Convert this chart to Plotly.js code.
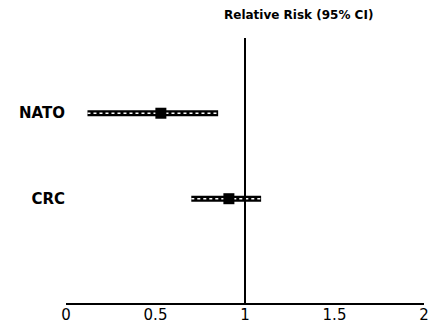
<!DOCTYPE html>
<html><head><meta charset="utf-8">
<script src="https://cdn.plot.ly/plotly-3.0.1.min.js"></script>
<style>html,body{margin:0;padding:0;background:#fff;}#chart{width:431px;height:329px;}</style>
</head><body><div id="chart"></div>
<script>
const studies = ['NATO', 'CRC'];
const rr = [0.53, 0.91];
const lower = [0.12, 0.70];
const upper = [0.85, 1.09];
const nullValue = 1;
const xTicks = [0, 0.5, 1, 1.5, 2];
const xTickText = ['0', '0.5', '1', '1.5', '2'];

const traces = [];
studies.forEach((s, i) => {
  traces.push({x: [lower[i], upper[i]], y: [s, s], mode: 'lines', type: 'scatter',
    line: {color: '#000', width: 6}, hoverinfo: 'skip', showlegend: false});
  traces.push({x: [lower[i], upper[i]], y: [s, s], mode: 'lines', type: 'scatter',
    line: {color: '#fff', width: 1.5, dash: '3px,3px'}, hoverinfo: 'skip', showlegend: false});
});
traces.push({x: rr, y: studies, mode: 'markers', type: 'scatter',
  marker: {symbol: 'square', size: 11, color: '#000'}, showlegend: false});

const font = {family: 'DejaVu Sans, sans-serif', size: 15, color: '#000'};
const layout = {
  width: 431, height: 329,
  margin: {l: 66, r: 7, t: 38, b: 26},
  paper_bgcolor: '#fff', plot_bgcolor: '#fff',
  font: font,
  showlegend: false,
  xaxis: {range: [0, 2], tickvals: xTicks, ticktext: xTickText, showgrid: false, zeroline: false,
    showline: true, linecolor: '#000', linewidth: 2, ticks: '', tickfont: font,
    ticklabeloverflow: 'allow', ticklabelstandoff: -3},
  yaxis: {type: 'category', categoryarray: studies, range: [2.22, -0.88], showgrid: false,
    zeroline: false, showline: false, ticks: '',
    tickfont: {family: 'DejaVu Sans, sans-serif', size: 15, color: '#000', weight: 600}},
  shapes: [{type: 'line', xref: 'x', yref: 'paper', x0: nullValue, x1: nullValue, y0: 0, y1: 1,
    line: {color: '#000', width: 2}}],
  annotations: [{text: '<b>Relative Risk (95% CI)</b>', xref: 'paper', yref: 'paper', x: 0.65, y: 1.0,
    yshift: 23, showarrow: false, xanchor: 'center', yanchor: 'middle',
    font: {family: 'DejaVu Sans, sans-serif', size: 12, color: '#000'}}]
};
Plotly.newPlot('chart', traces, layout, {displayModeBar: false, staticPlot: true});
</script></body></html>
